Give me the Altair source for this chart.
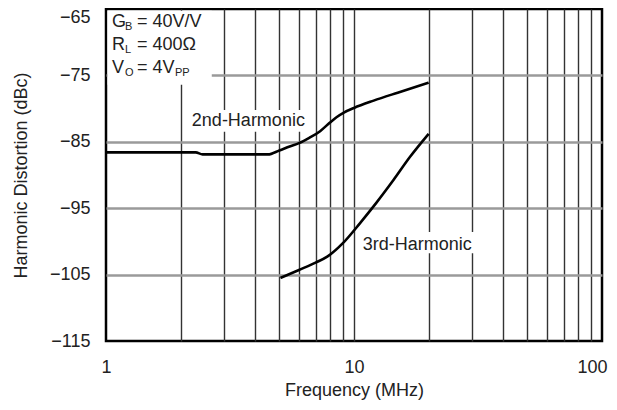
import altair as alt
import pandas as pd

# ---- data ----
freq2 = [1.0, 2.3, 2.45, 4.5, 5.0, 5.5, 6.0, 6.6, 7.3, 8.0, 8.5, 9.1, 10.0, 12.0, 15.0, 20.0]
hd2 = [-86.6, -86.6, -86.9, -86.9, -86.3, -85.7, -85.2, -84.4, -83.4, -82.1, -81.3, -80.6, -79.9, -78.8, -77.6, -76.1]
freq3 = [5.05, 6.0, 7.0, 7.8, 9.0, 10.6, 12.3, 14.4, 16.8, 20.0]
hd3 = [-105.5, -104.3, -103.2, -102.3, -100.3, -97.2, -94.2, -90.8, -87.3, -83.8]

x_grid = [1, 2, 3, 4, 5, 6, 7, 8, 9, 10, 20, 30, 40, 50, 60, 70, 80, 90, 100]
x_labels = [1, 10, 100]
y_ticks = [-115, -105, -95, -85, -75, -65]

# curve labels
curve_text = ["2nd-Harmonic", "3rd-Harmonic"]
curve_tx = [3.75, 18.0]
curve_ty = [-81.9, -100.5]

# condition annotation (main text, subscript, rest)
ann_main = ["G", "R", "V"]
ann_sub = ["B", "L", "O"]
ann_rest = ["= 40V/V", "= 400\u03a9", "= 4V"]
ann_x = [1.057, 1.057, 1.057]
ann_y = [-67.0, -70.35, -73.9]
pp_text = ["PP"]

# white label backgrounds
box_x1 = [1.015, 2.10, 10.4]
box_x2 = [2.67, 6.6, 31.0]
box_y1 = [-65.25, -80.2, -98.6]
box_y2 = [-76.4, -83.5, -101.8]

FONT = "Liberation Sans"
TXT = "#222222"

curves = pd.concat([
    pd.DataFrame({"x": freq2, "y": hd2, "s": "2nd"}),
    pd.DataFrame({"x": freq3, "y": hd3, "s": "3rd"}),
])

lab_expr = "(" + " || ".join(f"datum.value == {v}" for v in x_labels) + ") ? format(datum.value, 'd') : ''"

x_axis = alt.Axis(
    values=x_grid, labelExpr=lab_expr, ticks=False, domain=False, grid=True,
    gridColor="#333333", gridWidth=1.4,
    gridOpacity={"condition": {"test": "datum.value == 1 || datum.value == 100", "value": 0}, "value": 1},
    labelOffset={"condition": {"test": "datum.value == 100", "value": -10}, "value": 0},
    labelFlush=False, labelOverlap=False, labelPadding=17,
    labelFont=FONT, labelFontSize=18, labelColor=TXT,
    title="Frequency (MHz)", titleFont=FONT, titleFontSize=18, titleFontWeight="normal",
    titleColor=TXT, titleY=54, titleBaseline="alphabetic",
)
y_axis = alt.Axis(
    values=y_ticks, format="d", ticks=False, domain=False, grid=True,
    gridColor="#9a9a9a", gridWidth=2.5,
    gridOpacity={"condition": {"test": "datum.value == -65 || datum.value == -115", "value": 0}, "value": 1},
    labelOffset={"condition": {"test": "datum.value == -65", "value": 8}, "value": 0},
    labelPadding=16, labelFont=FONT, labelFontSize=18, labelColor=TXT,
    title="Harmonic Distortion (dBc)", titleFont=FONT, titleFontSize=18, titleFontWeight="normal",
    titleColor=TXT, titleX=-85, titleY=166, titleAngle=270, titleAlign="center", titleBaseline="middle",
)

xs = alt.Scale(type="log", domain=[1, 100], nice=False)
ys = alt.Scale(domain=[-115, -65], nice=False, zero=False)


def X(f="x"):
    return alt.X(f"{f}:Q", scale=xs, axis=x_axis)


def Y(f="y"):
    return alt.Y(f"{f}:Q", scale=ys, axis=y_axis)


boxes = alt.Chart(pd.DataFrame({"x": box_x1, "x2": box_x2, "y": box_y1, "y2": box_y2})).mark_rect(
    color="white"
).encode(x=X(), x2="x2:Q", y=Y(), y2="y2:Q")

ann_df = pd.DataFrame({"x": ann_x, "y": ann_y, "m": ann_main, "s": ann_sub, "r": ann_rest})
t_main = alt.Chart(ann_df).mark_text(align="left", baseline="middle", font=FONT, fontSize=18, color=TXT).encode(
    x=X(), y=Y(), text="m:N")
t_sub = alt.Chart(ann_df).mark_text(align="left", baseline="middle", font=FONT, fontSize=11, color=TXT, dx=13, dy=5).encode(
    x=X(), y=Y(), text="s:N")
t_rest = alt.Chart(ann_df).mark_text(align="left", baseline="middle", font=FONT, fontSize=18, color=TXT, dx=25).encode(
    x=X(), y=Y(), text="r:N")
pp_df = pd.DataFrame({"x": ann_x[2:3], "y": ann_y[2:3], "t": pp_text})
t_pp = alt.Chart(pp_df).mark_text(align="left", baseline="middle", font=FONT, fontSize=11, color=TXT, dx=63, dy=5).encode(
    x=X(), y=Y(), text="t:N")

t_curves = alt.Chart(pd.DataFrame({"x": curve_tx, "y": curve_ty, "t": curve_text})).mark_text(
    align="center", baseline="middle", font=FONT, fontSize=18, color=TXT
).encode(x=X(), y=Y(), text="t:N")

lines = alt.Chart(curves).mark_line(color="black", strokeWidth=2.6, interpolate="monotone").encode(
    x=X(), y=Y(), detail="s:N")

chart = alt.layer(boxes, t_main, t_sub, t_rest, t_pp, t_curves, lines).properties(
    width=496, height=332,
    padding={"left": 98, "top": 1, "right": 7, "bottom": 59},
    autosize="none",
    background="white",
).configure_view(stroke="black", strokeWidth=2.5)

chart.save("out.html", embed_options={"renderer": "svg", "actions": False})
